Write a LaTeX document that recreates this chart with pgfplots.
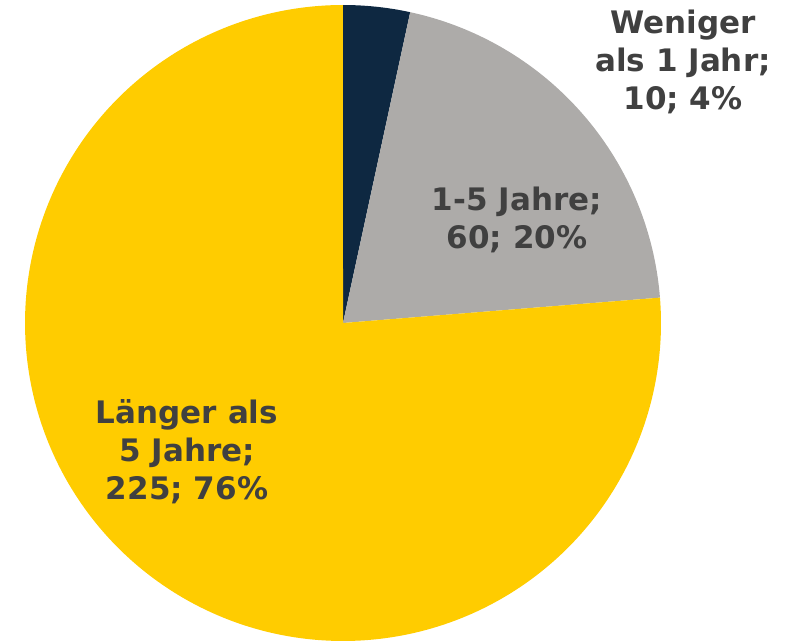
\documentclass[border=0pt]{standalone}
\usepackage{pgfplots}
\usepackage{pgfplotstable}
\pgfplotsset{compat=1.18}
\usepackage{fontspec}
\setmainfont{DejaVu Sans}
\definecolor{navy}{HTML}{0E2841}
\definecolor{greyslice}{HTML}{ADABA9}
\definecolor{yell}{HTML}{FFCC00}
\definecolor{txt}{HTML}{404040}
\pgfplotstableread{
cat value
1 10
2 60
3 225
}\piedata
\pgfplotstablegetelem{0}{value}\of\piedata \let\vA\pgfplotsretval
\pgfplotstablegetelem{1}{value}\of\piedata \let\vB\pgfplotsretval
\pgfplotstablegetelem{2}{value}\of\piedata \let\vC\pgfplotsretval
\pgfmathsetmacro{\tot}{\vA+\vB+\vC}
\pgfmathsetmacro{\aA}{90-\vA/\tot*360}
\pgfmathsetmacro{\aB}{\aA-\vB/\tot*360}
\pgfmathsetmacro{\aC}{\aB-\vC/\tot*360}
\def\cx{343}\def\cy{317}\def\rr{318}
\begin{document}
\begin{tikzpicture}
\begin{axis}[scale only axis, width=792pt, height=640pt,
  xmin=0, xmax=792, ymin=0, ymax=640, hide axis, clip=false]
\addplot[fill=navy, draw=none, domain=\aA:90, samples=40, variable=\t]
  ({\cx+\rr*cos(\t)},{\cy+\rr*sin(\t)}) -- (axis cs:\cx,\cy) -- cycle;
\addplot[fill=greyslice, draw=none, domain=\aB:\aA, samples=80, variable=\t]
  ({\cx+\rr*cos(\t)},{\cy+\rr*sin(\t)}) -- (axis cs:\cx,\cy) -- cycle;
\addplot[fill=yell, draw=none, domain=\aC:\aB, samples=250, variable=\t]
  ({\cx+\rr*cos(\t)},{\cy+\rr*sin(\t)}) -- (axis cs:\cx,\cy) -- cycle;
\tikzset{lbl/.style={align=center, text=txt, font=\fontsize{31}{38}\selectfont\bfseries, inner sep=0pt}}
\node[lbl] at (axis cs:683,578) {Weniger\\als 1 Jahr;\\10; 4\%};
\node[lbl] at (axis cs:517,420) {1-5 Jahre;\\60; 20\%};
\node[lbl] at (axis cs:187,188) {Länger als\\5 Jahre;\\225; 76\%};
\end{axis}
\pgfresetboundingbox
\path (current axis.south west) rectangle (current axis.north east);
\end{tikzpicture}
\end{document}
